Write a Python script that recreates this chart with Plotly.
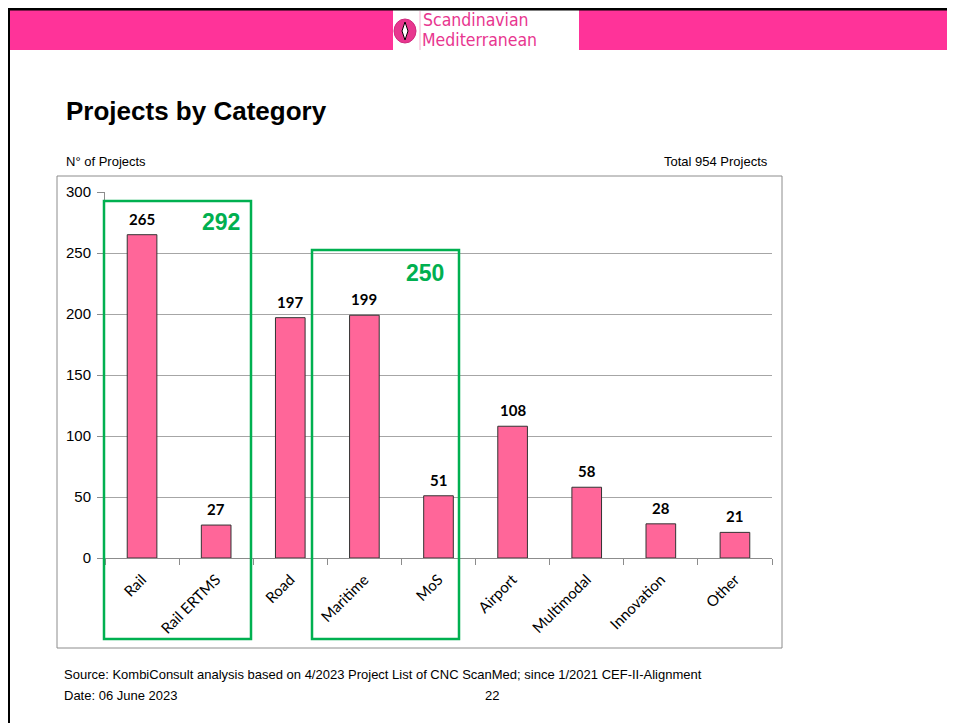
import plotly.graph_objects as go

categories = ["Rail", "Rail ERTMS", "Road", "Maritime", "MoS", "Airport", "Multimodal", "Innovation", "Other"]
projects = [265, 27, 197, 199, 51, 108, 58, 28, 21]
y_ticks = [0, 50, 100, 150, 200, 250, 300]
group_totals = ["292", "250"]

OFF = 8  # page body offset
W, H = 955 - OFF, 723 - OFF
L, R, T, B = 105, 772, 192, 558  # plot area in window pixels

def px(x):
    return (x - L) / (R - L)

def py(y):
    return (B - y) / (B - T)

fig = go.Figure()
fig.add_trace(go.Bar(
    x=categories, y=projects,
    marker=dict(color="#FF6699", line=dict(color="#333333", width=1)),
    width=0.4, hoverinfo="x+y",
))

shapes = []
# page border lines
shapes.append(dict(type="line", xref="paper", yref="paper", x0=px(8), x1=px(955), y0=py(9), y1=py(9),
                   line=dict(color="black", width=3), layer="above"))
shapes.append(dict(type="line", xref="paper", yref="paper", x0=px(9), x1=px(9), y0=py(9), y1=py(723),
                   line=dict(color="black", width=2), layer="above"))
# pink header band
shapes.append(dict(type="rect", xref="paper", yref="paper", x0=px(10), x1=px(955), y0=py(10), y1=py(50),
                   fillcolor="#FF3399", line=dict(width=0), layer="below"))
# logo white box
shapes.append(dict(type="rect", xref="paper", yref="paper", x0=px(393), x1=px(579), y0=py(10), y1=py(50),
                   fillcolor="white", line=dict(width=0), layer="below"))
shapes.append(dict(type="circle", xref="paper", yref="paper", x0=px(394), x1=px(416), y0=py(19), y1=py(43),
                   fillcolor="#E8368F", line=dict(color="#D02A7E", width=1)))
shapes.append(dict(type="path", xref="paper", yref="paper",
                   path=f"M {px(405)},{py(22)} L {px(408)},{py(31)} L {px(405)},{py(40)} L {px(402)},{py(31)} Z",
                   fillcolor="white", line=dict(color="black", width=1)))
shapes.append(dict(type="line", xref="paper", yref="paper", x0=px(420), x1=px(420), y0=py(11), y1=py(50),
                   line=dict(color="#F5B0D0", width=1)))
# chart outer border
shapes.append(dict(type="rect", xref="paper", yref="paper", x0=px(57), x1=px(782), y0=py(176), y1=py(648),
                   line=dict(color="#8C8C8C", width=1), fillcolor="rgba(0,0,0,0)", layer="below"))
# green group boxes
shapes.append(dict(type="rect", xref="paper", yref="paper", x0=px(104), x1=px(251), y0=py(201), y1=py(639),
                   line=dict(color="#00B050", width=2.5), layer="above"))
shapes.append(dict(type="rect", xref="paper", yref="paper", x0=px(312), x1=px(459), y0=py(250), y1=py(639),
                   line=dict(color="#00B050", width=2.5), layer="above"))

ann = []
def note(x, y, text, size, color="black", family="Arial, Liberation Sans", xanchor="left"):
    ann.append(dict(xref="paper", yref="paper", x=px(x), y=py(y), text=text, showarrow=False,
                    xanchor=xanchor, yanchor="middle", font=dict(family=family, size=size, color=color)))

logo_font = "Liberation Sans Narrow, Arial Narrow, DejaVu Sans Condensed"
note(421, 20, "Scandinavian", 17.5, "#E8368F", logo_font)
note(420, 40, "Mediterranean", 17.5, "#E8368F", logo_font)
note(64, 111, "<b>Projects by Category</b>", 26)
note(64, 162, "N° of Projects", 13)
note(770, 162, "Total 954 Projects", 13, xanchor="right")
note(221, 222, f"<b>{group_totals[0]}</b>", 23, "#00B050", xanchor="center")
note(425, 273, f"<b>{group_totals[1]}</b>", 23, "#00B050", xanchor="center")
note(62, 674, "Source: KombiConsult analysis based on 4/2023 Project List of CNC ScanMed; since 1/2021 CEF-II-Alignment", 13)
note(62, 695, "Date: 06 June 2023", 13)
note(492, 695, "22", 13, xanchor="center")

# value labels above bars, placed via the data scales
for c, v in zip(categories, projects):
    ann.append(dict(xref="x", yref="y", x=c, y=v, text=f"<b>{v}</b>", showarrow=False,
                    xanchor="center", yanchor="bottom", yshift=5,
                    font=dict(family="Lato, Arial", size=15, color="black")))

fig.update_layout(
    width=W, height=H,
    margin=dict(l=L - OFF, r=955 - R, t=T - OFF, b=723 - B, pad=0),
    paper_bgcolor="white", plot_bgcolor="white",
    showlegend=False, bargap=0.6,
    shapes=shapes, annotations=ann,
    xaxis=dict(type="category", tickangle=-45, tickson="boundaries", ticks="outside", ticklen=6,
               tickcolor="#8C8C8C", showline=True, linecolor="#8C8C8C", linewidth=1,
               ticklabelstandoff=6,
               tickfont=dict(family="Lato, Arial", size=15, color="black"), showgrid=False),
    yaxis=dict(range=[0, 300], tickvals=y_ticks, ticks="outside", ticklen=7, tickcolor="#8C8C8C",
               showline=True, linecolor="#8C8C8C", showgrid=True, gridcolor="#A6A6A6", gridwidth=1,
               ticklabelstandoff=3,
               zeroline=False, tickfont=dict(family="Arial, Liberation Sans", size=15, color="black")),
)

fig.write_html("out.html")
